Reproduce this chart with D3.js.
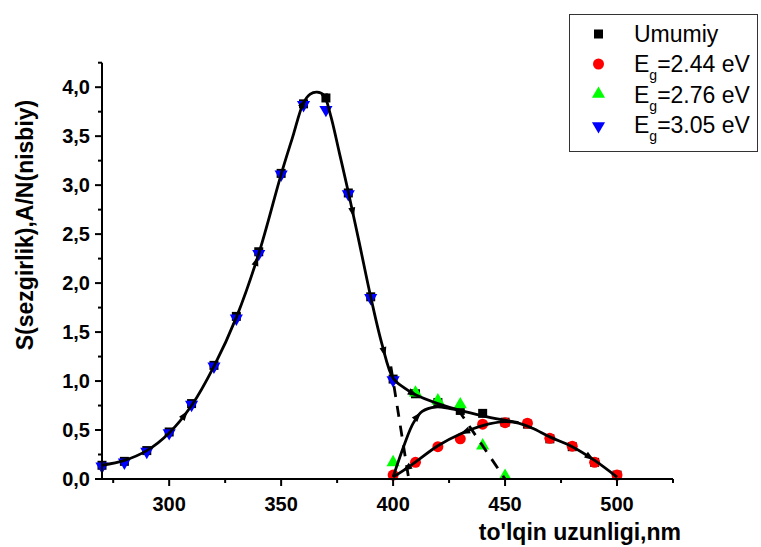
<!DOCTYPE html>
<html>
<head>
<meta charset="utf-8">
<script src="https://cdn.jsdelivr.net/npm/d3@7"></script>
<style>
  body { margin: 0; background: #fff; }
  text { font-family: "Liberation Sans", Arial, sans-serif; }
</style>
</head>
<body>
<svg width="761" height="547"></svg>
<script>
var svg = d3.select("svg"),
    width = +svg.attr("width"),
    height = +svg.attr("height");

// measured points
var wlUmumiy = [270, 280, 290, 300, 310, 320, 330, 340, 350, 360, 370, 380, 390, 400,
                410, 420, 430, 440, 450, 460, 470, 480, 490, 500];
var sUmumiy  = [0.14, 0.18, 0.29, 0.48, 0.77, 1.16, 1.66, 2.32, 3.12, 3.83, 3.89, 2.92, 1.86, 1.02,
                0.87, 0.78, 0.70, 0.67, 0.58, 0.56, 0.41, 0.33, 0.17, 0.04];
var wl244 = [400, 410, 420, 430, 440, 450, 460, 470, 480, 490, 500];
var s244  = [0.04, 0.17, 0.33, 0.41, 0.56, 0.575, 0.57, 0.415, 0.335, 0.17, 0.04];
var wl276 = [400, 410, 420, 430, 440, 450];
var s276  = [0.16, 0.87, 0.79, 0.75, 0.33, 0.02];
var wl305 = [270, 280, 290, 300, 310, 320, 330, 340, 350, 360, 370, 380, 390, 400];
var s305  = [0.14, 0.18, 0.29, 0.48, 0.77, 1.16, 1.65, 2.31, 3.12, 3.83, 3.78, 2.92, 1.86, 1.02];

// hand drawn curves
var upperX = [270, 280, 290, 300, 310, 320, 330, 340, 350, 355, 360, 363, 366, 369, 372, 376, 380,
              385, 390, 395, 400, 405, 410, 420, 430, 440, 450, 456];
var upperY = [0.14, 0.19, 0.29, 0.47, 0.75, 1.15, 1.65, 2.30, 3.11, 3.48, 3.84, 3.93, 3.95, 3.92, 3.72,
              3.33, 2.93, 2.40, 1.86, 1.38, 1.03, 0.93, 0.86, 0.77, 0.70, 0.645, 0.60, 0.575];
var middleX = [400, 405, 409, 413, 419, 425, 431];
var middleY = [0.02, 0.35, 0.57, 0.69, 0.735, 0.72, 0.69];
var lowerX = [400, 408, 420, 430, 440, 450, 456, 462, 470, 480, 490, 500];
var lowerY = [0.02, 0.14, 0.34, 0.46, 0.545, 0.585, 0.57, 0.52, 0.43, 0.33, 0.19, 0.02];
var dash1X = [399, 407], dash1Y = [1.15, 0.0];
var dash2X = [429, 450], dash2Y = [0.71, 0.0];

// arrow heads: curve, wavelength, direction
var arrowCurve = ["upper", "upper", "upper", "upper", "upper", "upper", "upper", "middle", "lower", "lower", "lower"];
var arrowWl    = [307, 339, 360, 370, 382, 396, 409, 411, 406, 432, 488];
var arrowDir   = [1, 1, 1, 1, 1, 1, 1, 1, -1, -1, 1];

var xTicks = [300, 350, 400, 450, 500];
var xMinor = [275, 325, 375, 425, 475, 525];
var yTicks = [0, 0.5, 1, 1.5, 2, 2.5, 3, 3.5, 4];
var yMinor = [0.25, 0.75, 1.25, 1.75, 2.25, 2.75, 3.25, 3.75, 4.25];

var x = d3.scaleLinear().domain([270, 525]).range([102, 673]);
var y = d3.scaleLinear().domain([0, 4.25]).range([479, 62.7]);

function zip(a, b) {
    return a.map(function (v, i) { return [v, b[i]]; });
}

// markers
var g = svg.append("g");
g.selectAll(".sq").data(zip(wlUmumiy, sUmumiy)).enter().append("rect")
    .attr("x", function (d) { return x(d[0]) - 4.5; })
    .attr("y", function (d) { return y(d[1]) - 4.5; })
    .attr("width", 9).attr("height", 9).attr("fill", "#000");
g.selectAll(".ci").data(zip(wl244, s244)).enter().append("circle")
    .attr("cx", function (d) { return x(d[0]); })
    .attr("cy", function (d) { return y(d[1]); })
    .attr("r", 5.5).attr("fill", "#ff0000");
var triUp = d3.symbol().type(d3.symbolTriangle).size(75);
g.selectAll(".tu").data(zip(wl276, s276)).enter().append("path")
    .attr("d", triUp)
    .attr("transform", function (d) { return "translate(" + x(d[0]) + "," + (y(d[1]) - 1) + ")"; })
    .attr("fill", "#00ff00");
g.selectAll(".td").data(zip(wl305, s305)).enter().append("path")
    .attr("d", triUp)
    .attr("transform", function (d) { return "translate(" + x(d[0]) + "," + (y(d[1]) + 1) + ") rotate(180)"; })
    .attr("fill", "#0000ff");

// curves
var line = d3.line()
    .x(function (d) { return x(d[0]); })
    .y(function (d) { return y(d[1]); })
    .curve(d3.curveCatmullRom.alpha(0.5));

var curves = {
    upper: zip(upperX, upperY),
    middle: zip(middleX, middleY),
    lower: zip(lowerX, lowerY)
};
var paths = {};
Object.keys(curves).forEach(function (k) {
    paths[k] = svg.append("path")
        .datum(curves[k])
        .attr("d", line)
        .attr("fill", "none")
        .attr("stroke", "#000")
        .attr("stroke-width", 2.8);
});
[zip(dash1X, dash1Y), zip(dash2X, dash2Y)].forEach(function (d) {
    svg.append("path")
        .datum(d)
        .attr("d", d3.line().x(function (p) { return x(p[0]); }).y(function (p) { return y(p[1]); }))
        .attr("stroke", "#000")
        .attr("stroke-width", 2.8)
        .attr("stroke-dasharray", "11,9");
});

// arrowheads along the curves
arrowWl.forEach(function (w, i) {
    var node = paths[arrowCurve[i]].node();
    var total = node.getTotalLength();
    var tx = x(w), lo = 0, hi = total;
    for (var k = 0; k < 40; k++) {
        var mid = (lo + hi) / 2;
        if (node.getPointAtLength(mid).x < tx) lo = mid; else hi = mid;
    }
    var p = node.getPointAtLength(lo);
    var q = node.getPointAtLength(Math.min(total, Math.max(0, lo + 3 * arrowDir[i])));
    var ang = Math.atan2(q.y - p.y, q.x - p.x) * 180 / Math.PI;
    svg.append("path")
        .attr("d", "M5,0L-5,-3.5L-5,3.5Z")
        .attr("transform", "translate(" + p.x + "," + p.y + ") rotate(" + ang + ")")
        .attr("fill", "#000");
});

// axes
var axes = svg.append("g").attr("stroke", "#000").attr("stroke-width", 2);
axes.append("line").attr("x1", 102).attr("x2", 102).attr("y1", y(4.25)).attr("y2", y(0) + 1);
axes.append("line").attr("x1", 101).attr("x2", x(525)).attr("y1", y(0)).attr("y2", y(0));
axes.selectAll(".xt").data(xTicks).enter().append("line")
    .attr("x1", function (d) { return x(d); }).attr("x2", function (d) { return x(d); })
    .attr("y1", y(0)).attr("y2", y(0) + 7);
axes.selectAll(".xm").data(xMinor).enter().append("line")
    .attr("x1", function (d) { return x(d); }).attr("x2", function (d) { return x(d); })
    .attr("y1", y(0)).attr("y2", y(0) + 4);
axes.selectAll(".yt").data(yTicks).enter().append("line")
    .attr("x1", 102).attr("x2", 95)
    .attr("y1", function (d) { return y(d); }).attr("y2", function (d) { return y(d); });
axes.selectAll(".ym").data(yMinor).enter().append("line")
    .attr("x1", 102).attr("x2", 98)
    .attr("y1", function (d) { return y(d); }).attr("y2", function (d) { return y(d); });

svg.selectAll(".xl").data(xTicks).enter().append("text")
    .attr("x", function (d) { return x(d); })
    .attr("y", 511)
    .attr("text-anchor", "middle")
    .attr("font-size", 20).attr("font-weight", "bold")
    .text(function (d) { return d; });
svg.selectAll(".yl").data(yTicks).enter().append("text")
    .attr("x", 90)
    .attr("y", function (d) { return y(d) + 7; })
    .attr("text-anchor", "end")
    .attr("font-size", 20).attr("font-weight", "bold")
    .text(function (d) { return d.toFixed(1).replace(".", ","); });

svg.append("text")
    .attr("x", 681).attr("y", 540)
    .attr("text-anchor", "end")
    .attr("font-size", 23).attr("font-weight", "bold")
    .text("to'lqin uzunligi,nm");
svg.append("text")
    .attr("transform", "translate(33,225) rotate(-90)")
    .attr("text-anchor", "middle")
    .attr("font-size", 23).attr("font-weight", "bold")
    .text("S(sezgirlik),A/N(nisbiy)");

// legend
var legNames = ["Umumiy", "2.44 eV", "2.76 eV", "3.05 eV"];
var legY = [34, 64, 95, 125];
var leg = svg.append("g");
leg.append("rect").attr("x", 569.5).attr("y", 14.5).attr("width", 188).attr("height", 137)
    .attr("fill", "#fff").attr("stroke", "#333").attr("stroke-width", 1);
leg.append("rect").attr("x", 594).attr("y", legY[0] - 4.5).attr("width", 9).attr("height", 9).attr("fill", "#000");
leg.append("circle").attr("cx", 598.5).attr("cy", legY[1]).attr("r", 5.5).attr("fill", "#ff0000");
leg.append("path").attr("d", triUp).attr("transform", "translate(598.5," + (legY[2] - 1) + ")").attr("fill", "#00ff00");
leg.append("path").attr("d", triUp).attr("transform", "translate(598.5," + (legY[3] + 1) + ") rotate(180)").attr("fill", "#0000ff");
legNames.forEach(function (n, i) {
    var t = leg.append("text").attr("x", 634).attr("y", legY[i] + 8).attr("font-size", 23);
    if (i === 0) {
        t.text(n);
    } else {
        t.append("tspan").text("E");
        t.append("tspan").attr("font-size", 14).attr("dy", 8).text("g");
        t.append("tspan").attr("dy", -8).text("=" + n);
    }
});
</script>
</body>
</html>
